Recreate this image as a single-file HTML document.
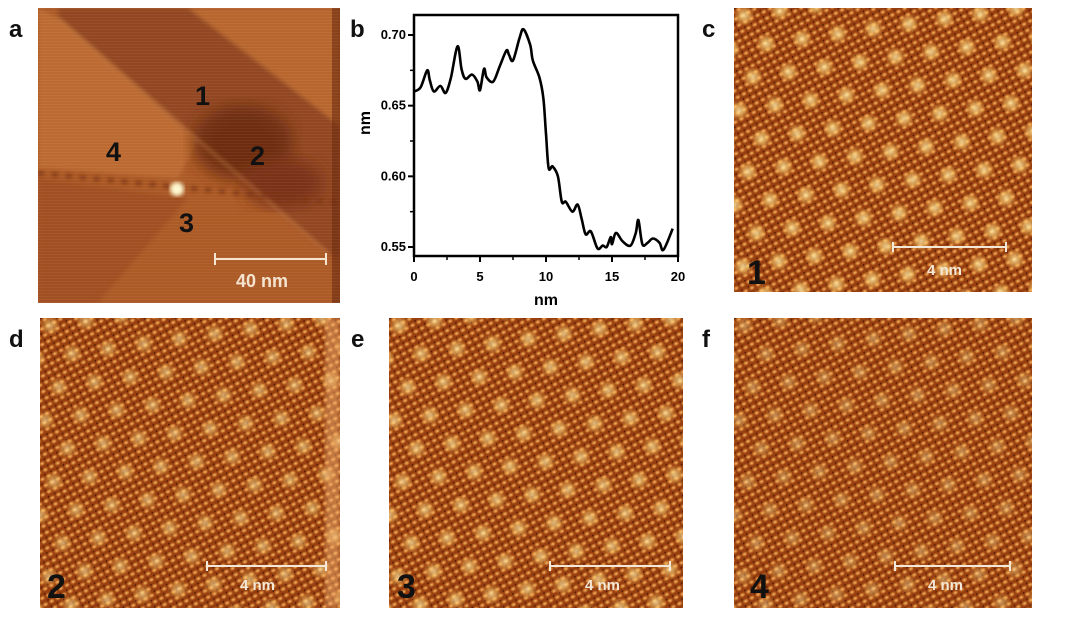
<!DOCTYPE html>
<html><head><meta charset="utf-8">
<style>
html,body{margin:0;padding:0;background:#fff;width:1080px;height:623px;overflow:hidden;font-family:"Liberation Sans",Arial,sans-serif;}
.lbl{position:absolute;font-weight:bold;font-size:24px;color:#111;}
svg{position:absolute;}
</style></head><body>
<svg width="0" height="0" style="position:absolute">
<defs>
<filter id="bl2"><feGaussianBlur stdDeviation="2"/></filter>
<filter id="bl8"><feGaussianBlur stdDeviation="8"/></filter>
<radialGradient id="dotg"><stop offset="0" stop-color="#f8c070"/><stop offset="0.6" stop-color="#d07a30" stop-opacity="0.8"/><stop offset="1" stop-color="#c06a28" stop-opacity="0"/></radialGradient>
<radialGradient id="blobg"><stop offset="0" stop-color="#fff0b0"/><stop offset="0.5" stop-color="#ffd070" stop-opacity="0.7"/><stop offset="1" stop-color="#f0a040" stop-opacity="0"/></radialGradient>
<pattern id="fine" width="7" height="7" patternUnits="userSpaceOnUse" patternTransform="rotate(-28)">
<rect width="7" height="7" fill="#963e10"/>
<ellipse cx="3.5" cy="3.5" rx="3.4" ry="2.6" fill="url(#dotg)"/>
<circle cx="0" cy="0" r="1.6" fill="#3a1204" opacity="0.8"/>
</pattern>
<pattern id="super" width="36" height="62" patternUnits="userSpaceOnUse" patternTransform="rotate(-8)">
<circle cx="9" cy="9" r="11" fill="url(#blobg)"/>
<circle cx="27" cy="40" r="11" fill="url(#blobg)"/>
</pattern>
<pattern id="noise" width="300" height="3" patternUnits="userSpaceOnUse">
<rect width="300" height="1" fill="#fff" opacity="0.05"/>
</pattern>
</defs>
</svg>

<div class="lbl" style="left:9px;top:16px">a</div>
<div class="lbl" style="left:350px;top:16px">b</div>
<div class="lbl" style="left:702px;top:16px">c</div>
<div class="lbl" style="left:9px;top:326px">d</div>
<div class="lbl" style="left:351px;top:326px">e</div>
<div class="lbl" style="left:702px;top:326px">f</div>

<!-- panel a -->
<svg style="left:38px;top:8px" width="302" height="295" viewBox="0 0 302 295">
<rect width="302" height="295" fill="#a85626"/>
<g filter="url(#bl2)">
<polygon points="0,0 20,0 160,133 290,250 302,260 302,295 0,295" fill="#ac5a28"/>
<polygon points="0,0 20,10 160,133 140,170 0,160" fill="#bc6a32"/>
<polygon points="20,0 150,0 302,118 302,250 290,245 160,133 20,10" fill="#924620"/>
<polygon points="150,0 302,0 302,118" fill="#b8662e"/>
<polygon points="0,170 150,190 60,295 0,295" fill="#a05024"/>
</g>
<ellipse cx="205" cy="135" rx="50" ry="38" fill="#6a2a0e" filter="url(#bl8)" opacity="0.9"/>
<ellipse cx="245" cy="175" rx="40" ry="25" fill="#7a3212" filter="url(#bl8)"/>
<line x1="20" y1="10" x2="290" y2="245" stroke="#d89050" stroke-width="2" filter="url(#bl2)" opacity="0.6"/>
<line x1="0" y1="165" x2="300" y2="195" stroke="#7a3010" stroke-width="4" stroke-dasharray="6 8" filter="url(#bl2)"/>
<rect x="294" y="0" width="8" height="295" fill="#6a2a0e" opacity="0.6"/>
<rect width="302" height="295" fill="url(#noise)"/>
<circle cx="139" cy="181" r="7" fill="#fff8d0" filter="url(#bl2)"/>
<text x="157" y="97" font-size="27" font-weight="bold" fill="#111" font-family="Liberation Sans,sans-serif">1</text>
<text x="212" y="157" font-size="27" font-weight="bold" fill="#111" font-family="Liberation Sans,sans-serif">2</text>
<text x="141" y="224" font-size="27" font-weight="bold" fill="#111" font-family="Liberation Sans,sans-serif">3</text>
<text x="68" y="153" font-size="27" font-weight="bold" fill="#111" font-family="Liberation Sans,sans-serif">4</text>
<g stroke="#f4e4d0" stroke-width="2">
<line x1="177" y1="251" x2="288" y2="251"/><line x1="177" y1="245" x2="177" y2="257"/><line x1="288" y1="245" x2="288" y2="257"/>
</g>
<text x="198" y="279" font-size="18" font-weight="bold" fill="#f4e4d0" font-family="Liberation Sans,sans-serif">40 nm</text>
</svg>

<!-- atomic panels -->
<svg style="left:734px;top:8px" width="298" height="284">
<rect width="298" height="284" fill="url(#fine)"/><rect width="298" height="284" fill="url(#super)" opacity="0.8"/>
<g stroke="#f4e8d8" stroke-width="2"><line x1="159" y1="239" x2="272" y2="239"/><line x1="159" y1="234" x2="159" y2="244"/><line x1="272" y1="234" x2="272" y2="244"/></g>
<text x="193" y="267" font-size="15" font-weight="bold" fill="#f4e8d8" font-family="Liberation Sans,sans-serif">4 nm</text>
<text x="13" y="276" font-size="34" font-weight="bold" fill="#111" font-family="Liberation Sans,sans-serif">1</text>
</svg>
<svg style="left:40px;top:318px" width="300" height="290">
<rect width="300" height="290" fill="url(#fine)"/><rect width="300" height="290" fill="url(#super)" opacity="0.6"/>
<rect x="285" width="15" height="290" fill="#f0b070" opacity="0.5" filter="url(#bl2)"/>
<g stroke="#f4e8d8" stroke-width="2"><line x1="167" y1="248" x2="286" y2="248"/><line x1="167" y1="243" x2="167" y2="253"/><line x1="286" y1="243" x2="286" y2="253"/></g>
<text x="200" y="272" font-size="15" font-weight="bold" fill="#f4e8d8" font-family="Liberation Sans,sans-serif">4 nm</text>
<text x="7" y="280" font-size="34" font-weight="bold" fill="#111" font-family="Liberation Sans,sans-serif">2</text>
</svg>
<svg style="left:389px;top:318px" width="294" height="290">
<rect width="294" height="290" fill="url(#fine)"/><rect width="294" height="290" fill="url(#super)" opacity="0.7"/>
<g stroke="#f4e8d8" stroke-width="2"><line x1="161" y1="248" x2="281" y2="248"/><line x1="161" y1="243" x2="161" y2="253"/><line x1="281" y1="243" x2="281" y2="253"/></g>
<text x="196" y="272" font-size="15" font-weight="bold" fill="#f4e8d8" font-family="Liberation Sans,sans-serif">4 nm</text>
<text x="8" y="280" font-size="34" font-weight="bold" fill="#111" font-family="Liberation Sans,sans-serif">3</text>
</svg>
<svg style="left:734px;top:318px" width="298" height="290">
<rect width="298" height="290" fill="url(#fine)"/><rect width="298" height="290" fill="url(#super)" opacity="0.45"/>
<g stroke="#f4e8d8" stroke-width="2"><line x1="161" y1="248" x2="276" y2="248"/><line x1="161" y1="243" x2="161" y2="253"/><line x1="276" y1="243" x2="276" y2="253"/></g>
<text x="194" y="272" font-size="15" font-weight="bold" fill="#f4e8d8" font-family="Liberation Sans,sans-serif">4 nm</text>
<text x="16" y="280" font-size="34" font-weight="bold" fill="#111" font-family="Liberation Sans,sans-serif">4</text>
</svg>

<!-- panel b -->
<svg id="chart" style="left:350px;top:5px" width="340" height="305"></svg>
<script>
const xs=[0,0.5,1.0,1.2,1.5,2.0,2.4,2.8,3.3,3.6,3.9,4.4,4.8,5.0,5.3,5.5,6.0,6.5,7.0,7.2,7.5,8.0,8.3,8.8,9.0,9.5,9.8,10.0,10.2,10.5,10.9,11.2,11.5,12.0,12.4,12.7,13.0,13.4,13.9,14.3,14.6,14.9,15.0,15.3,15.8,16.4,16.8,17.0,17.3,17.7,18.1,18.6,18.9,19.6];
const heights=[0.660,0.663,0.675,0.668,0.660,0.664,0.659,0.670,0.692,0.676,0.669,0.672,0.667,0.661,0.676,0.670,0.667,0.678,0.689,0.686,0.682,0.698,0.704,0.693,0.682,0.670,0.655,0.630,0.606,0.607,0.600,0.582,0.582,0.575,0.580,0.570,0.559,0.561,0.549,0.551,0.550,0.557,0.552,0.560,0.554,0.551,0.560,0.569,0.552,0.553,0.556,0.553,0.548,0.563];
const xTicks=[0,5,10,15,20];
const yTicks=[0.55,0.60,0.65,0.70];
const NS="http://www.w3.org/2000/svg";
const svg=document.getElementById('chart');
const L=64,R=328,T=10,B=251;
const sx=v=>L+(v-0)/(20-0)*(R-L);
const sy=v=>242-(v-0.55)/(0.15)*212;
function mk(t,a){const e=document.createElementNS(NS,t);for(const k in a)e.setAttribute(k,a[k]);svg.appendChild(e);return e;}
const frame=mk('rect',{x:L,y:T,width:R-L,height:B-T,fill:'none',stroke:'#000','stroke-width':2.5});


xTicks.forEach(v=>{
  const l=mk('line',{x1:sx(v),x2:sx(v),y1:B,y2:B+6,stroke:'#000','stroke-width':2});
  
  
  const t=mk('text',{x:sx(v),y:B+25,'text-anchor':'middle','font-size':13,'font-weight':'bold','font-family':'Liberation Sans,sans-serif'});
  t.textContent=v;
  
  
});
for(let v=2.5;v<20;v+=5){const l=mk('line',{x1:sx(v),x2:sx(v),y1:B,y2:B+4,stroke:'#000','stroke-width':1.5});
  
  }
yTicks.forEach(v=>{
  const l=mk('line',{x1:L-6,x2:L,y1:sy(v),y2:sy(v),stroke:'#000','stroke-width':2});
  
  
  const t=mk('text',{x:L-8,y:sy(v)+4,'text-anchor':'end','font-size':13,'font-weight':'bold','font-family':'Liberation Sans,sans-serif'});
  t.textContent=v.toFixed(2);
  
  
});
for(let v=0.575;v<0.7;v+=0.05){const l=mk('line',{x1:L-4,x2:L,y1:sy(v),y2:sy(v),stroke:'#000','stroke-width':1.5});
  
  }
const xt=mk('text',{x:(L+R)/2,y:300,'text-anchor':'middle','font-size':16,'font-weight':'bold','font-family':'Liberation Sans,sans-serif'});
xt.textContent='nm';


const yt=mk('text',{x:0,y:0,'text-anchor':'middle','font-size':16,'font-weight':'bold','font-family':'Liberation Sans,sans-serif',transform:'translate(20,118) rotate(-90)'});
yt.textContent='nm';


const P=xs.map((x,i)=>[sx(x),sy(heights[i])]);
let d='M'+P[0][0].toFixed(1)+','+P[0][1].toFixed(1);
for(let i=0;i<P.length-1;i++){
  const p0=P[Math.max(0,i-1)],p1=P[i],p2=P[i+1],p3=P[Math.min(P.length-1,i+2)];
  const c1=[p1[0]+(p2[0]-p0[0])/6,p1[1]+(p2[1]-p0[1])/6];
  const c2=[p2[0]-(p3[0]-p1[0])/6,p2[1]-(p3[1]-p1[1])/6];
  d+=' C'+c1.map(v=>v.toFixed(1)).join(',')+' '+c2.map(v=>v.toFixed(1)).join(',')+' '+p2.map(v=>v.toFixed(1)).join(',');
}
const p=mk('path',{d:d,fill:'none',stroke:'#000','stroke-width':2.6,'stroke-linejoin':'round'});


</script>
</body></html>
